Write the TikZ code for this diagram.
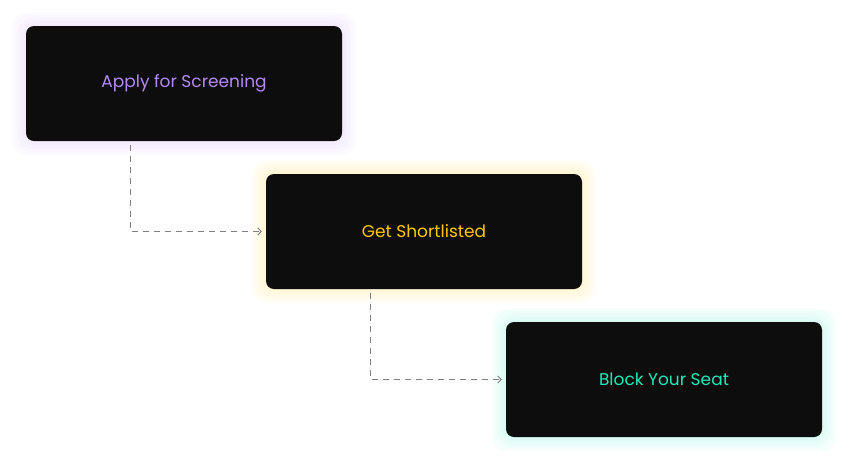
\documentclass[tikz,border=0pt]{standalone}
\usepackage{fontspec}
\setmainfont{Poppins}
\usetikzlibrary{positioning,arrows.meta}
\definecolor{boxfill}{HTML}{0D0D0D}
\definecolor{stepA}{HTML}{B48AF2}
\definecolor{stepB}{HTML}{FFC800}
\definecolor{stepC}{HTML}{1EEAB8}
\definecolor{linkgray}{HTML}{808080}
\tikzset{
  stepbox/.style={draw=none, fill=boxfill, rounded corners=8pt, minimum width=316pt,
    minimum height=115pt, font=\fontsize{17pt}{20pt}\selectfont},
  link/.style={draw=linkgray, line width=0.9pt, dash pattern=on 6pt off 5pt,
    -{Straight Barb[length=3.5pt,width=7pt]}}
}
\newcommand{\glowat}[2]{%
  \foreach \g in {14,11,8,5,2}
    \fill[#2, opacity=0.035, rounded corners=14pt]
      ($(#1)+(-158-\g,-57.5-\g)$) rectangle ($(#1)+(158+\g,57.5+\g)$);
}
\usetikzlibrary{calc}
\begin{document}
\begin{tikzpicture}[x=1pt,y=1pt]
  \useasboundingbox (0,0) rectangle (856,-472);
  % glow behind the boxes
  \glowat{184,-83.5}{stepA}
  \glowat{424,-231.5}{stepB}
  \glowat{664,-379.5}{stepC}
  % step boxes
  \node[stepbox, text=stepA] (apply) at (184,-83.5) {Apply for Screening};
  \node[stepbox, text=stepB] (short) at (424,-231.5) {Get Shortlisted};
  \node[stepbox, text=stepC] (seat) at (664,-379.5) {Block Your Seat};
  % links
  \draw[link] ([xshift=-54pt,yshift=-4pt]apply.south) |- ([xshift=-4pt]short.west);
  \draw[link] ([xshift=-54pt,yshift=-4pt]short.south) |- ([xshift=-4pt]seat.west);
\end{tikzpicture}
\end{document}
